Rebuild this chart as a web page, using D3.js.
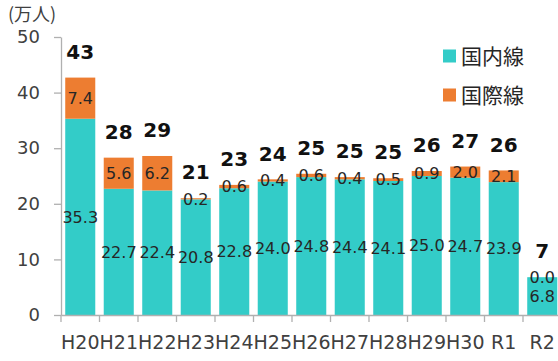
<!DOCTYPE html>
<html>
<head>
<meta charset="utf-8">
<script src="https://cdn.jsdelivr.net/npm/d3@7"></script>
<style>
  html, body { margin: 0; padding: 0; background: #fff; }
  svg { display: block; }
</style>
</head>
<body>
<svg id="chart" width="558" height="361"></svg>
<script>
// 年度ごとの航空旅客数（万人）
const categories = ["H20","H21","H22","H23","H24","H25","H26","H27","H28","H29","H30","R1","R2"];
const domestic = [35.3, 22.7, 22.4, 20.8, 22.8, 24.0, 24.8, 24.4, 24.1, 25.0, 24.7, 23.9, 6.8];
const international = [7.4, 5.6, 6.2, 0.2, 0.6, 0.4, 0.6, 0.4, 0.5, 0.9, 2.0, 2.1, 0.0];
const yTicks = [0, 10, 20, 30, 40, 50];
const seriesNames = ["国内線", "国際線"];
const colors = ["#33CCC8", "#ED7D31"];

const svg = d3.select("#chart");
const fontLatin = "'DejaVu Sans', 'Noto Sans CJK JP', sans-serif";

const x = d3.scaleBand().domain(categories).range([61, 561.5]).padding(0);
const y = d3.scaleLinear().domain([0, 50]).range([315, 37]);

const rows = categories.map((c, i) => ({
  cat: c,
  dom: domestic[i],
  intl: international[i],
  total: domestic[i] + international[i]
}));

const stack = d3.stack().keys(["dom", "intl"]);
const layers = stack(rows);

const barInset = x.bandwidth() * 0.11;
const barW = x.bandwidth() * 0.78;

// stacked bars
const g = svg.append("g");
layers.forEach((layer, li) => {
  g.selectAll(null)
    .data(layer)
    .enter()
    .append("rect")
    .attr("x", d => x(d.data.cat) + barInset)
    .attr("width", barW)
    .attr("y", d => y(d[1]))
    .attr("height", d => y(d[0]) - y(d[1]))
    .attr("fill", colors[li]);
});

// segment value labels
layers.forEach((layer, li) => {
  g.selectAll(null)
    .data(layer)
    .enter()
    .append("text")
    .attr("x", d => x(d.data.cat) + x.bandwidth() / 2)
    .attr("y", d => y((d[0] + d[1]) / 2))
    .attr("dy", "0.36em")
    .attr("text-anchor", "middle")
    .attr("font-family", fontLatin)
    .attr("font-size", 16)
    .attr("fill", "#262626")
    .text(d => (d[1] - d[0]).toFixed(1));
});

// total labels
g.selectAll(null)
  .data(rows)
  .enter()
  .append("text")
  .attr("x", d => x(d.cat) + x.bandwidth() / 2)
  .attr("y", d => y(d.total) - 26)
  .attr("dy", "0.36em")
  .attr("text-anchor", "middle")
  .attr("font-family", fontLatin)
  .attr("font-weight", "bold")
  .attr("font-size", 20)
  .attr("fill", "#111")
  .text(d => Math.round(d.total));

// y axis
const yAxis = d3.axisLeft(y).tickValues(yTicks).tickSize(7).tickSizeOuter(0).tickPadding(14);
const gy = svg.append("g").attr("transform", "translate(61,0)").call(yAxis);
gy.select(".domain").attr("stroke", "#b0b0b0").attr("stroke-width", 1.3);
gy.selectAll(".tick line").attr("stroke", "#b0b0b0").attr("stroke-width", 1.3);
gy.selectAll(".tick text")
  .attr("font-family", fontLatin)
  .attr("font-size", 18)
  .attr("fill", "#404040");

// x axis
const xAxis = d3.axisBottom(x).tickSize(0).tickSizeOuter(0).tickPadding(21);
const gx = svg.append("g").attr("transform", "translate(0,315)").call(xAxis);
gx.select(".domain").attr("stroke", "#b0b0b0").attr("stroke-width", 1.3);
gx.selectAll(".tick text")
  .attr("font-family", fontLatin)
  .attr("font-size", 19)
  .attr("fill", "#404040");

// category boundary ticks
gx.selectAll(null)
  .data(categories)
  .enter()
  .append("line")
  .attr("x1", d => x(d))
  .attr("x2", d => x(d))
  .attr("y1", 0)
  .attr("y2", 7)
  .attr("stroke", "#b0b0b0")
  .attr("stroke-width", 1.3);

// unit label
svg.append("text")
  .attr("x", 8)
  .attr("y", 15)
  .attr("dy", "0.36em")
  .attr("font-family", "'Noto Sans CJK JP', sans-serif")
  .attr("font-size", 18)
  .attr("fill", "#404040")
  .text("(万人)");

// legend
const legend = svg.append("g");
seriesNames.forEach((name, i) => {
  const cy = 56 + i * 39;
  legend.append("rect")
    .attr("x", 443)
    .attr("y", cy - 6.5)
    .attr("width", 13)
    .attr("height", 13)
    .attr("fill", colors[i]);
  legend.append("text")
    .attr("x", 461)
    .attr("y", cy)
    .attr("dy", "0.36em")
    .attr("font-family", "'Noto Sans CJK JP', sans-serif")
    .attr("font-size", 21)
    .attr("fill", "#262626")
    .text(name);
});
</script>
</body>
</html>
